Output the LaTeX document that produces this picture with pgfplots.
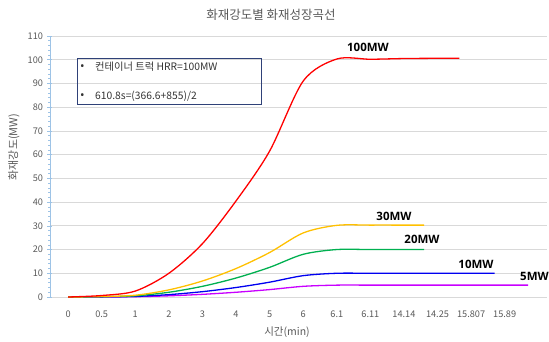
\documentclass[border=0pt]{standalone}
\usepackage{fontspec}
\setmainfont{Noto Sans CJK KR}
\newfontfamily\latinfont{Open Sans}
\usepackage{pgfplots}
\pgfplotsset{compat=1.18}
\definecolor{axisblue}{RGB}{157,195,230}
\definecolor{gridgray}{RGB}{217,217,217}
\definecolor{txtgray}{RGB}{89,89,89}
\definecolor{boxblue}{RGB}{47,65,120}
\definecolor{cOrange}{RGB}{255,192,0}
\definecolor{cGreen}{RGB}{0,176,80}
\definecolor{cBlue}{RGB}{0,0,240}
\definecolor{cPurple}{RGB}{200,0,255}
\definecolor{cRed}{RGB}{255,0,0}
\begin{document}
\begin{tikzpicture}
\path[use as bounding box] (-50pt,-44pt) rectangle (499pt,297pt);
\begin{axis}[
  at={(0pt,0pt)}, anchor=south west,
  scale only axis, width=497pt, height=261pt,
  xmin=-0.54, xmax=14.26, ymin=0, ymax=110,
  xtick={0,...,13},
  xticklabels={0,0.5,1,2,3,4,5,6,6.1,6.11,14.14,14.25,15.807,15.89},
  ytick={0,10,...,110}, minor y tick num=4,
  xtick pos=bottom, ytick pos=left,
  xtick style={draw=none},
  tick style={draw=axisblue, line width=0.6pt},
  major tick length=5pt, minor tick length=3pt, tick align=center,
  axis line style={draw=none},
  ymajorgrids, major grid style={draw=gridgray, line width=0.8pt},
  /pgf/number format/assume math mode=true,
  ticklabel style={font=\fontsize{9.2}{11}\selectfont, text=txtgray},
  xticklabel style={yshift=-8pt},
  yticklabel style={xshift=-1pt},
  clip=false,
]
\draw[axisblue, line width=0.8pt] (rel axis cs:0,0) -- (rel axis cs:0,1);
\addplot[cPurple, line width=1.3pt, smooth] coordinates {
 (0,0) (1,0.03) (2,0.125) (3,0.5) (4,1.125) (5,2) (6,3.125) (7,4.5) (8,5) (9,5) (10,5) (11,5) (12,5) (13,5) (13.7,5)};
\addplot[cBlue, line width=1.3pt, smooth] coordinates {
 (0,0) (1,0.06) (2,0.25) (3,1) (4,2.25) (5,4) (6,6.25) (7,9) (8,10) (9,10) (10,10) (11,10) (12,10) (12.7,10)};
\addplot[cGreen, line width=1.3pt, smooth] coordinates {
 (0,0) (1,0.125) (2,0.5) (3,2) (4,4.5) (5,8) (6,12.5) (7,18) (8,20) (9,20) (10,20) (10.6,20)};
\addplot[cOrange, line width=1.3pt, smooth] coordinates {
 (0,0) (1,0.19) (2,0.75) (3,3) (4,6.75) (5,12) (6,18.75) (7,27) (8,30.2) (9,30.3) (10,30.3) (10.6,30.3)};
\addplot[cRed, line width=1.3pt, smooth] coordinates {
 (0,0) (1,0.625) (2,2.5) (3,10) (4,22.5) (5,40.5) (6,61.5) (7,91) (8,100.3) (9,100.2) (10,100.5) (11,100.6) (11.65,100.6)};
\end{axis}
% title and axis titles
\node[text=txtgray, font=\fontsize{12.5}{15}\selectfont] at (221pt,282pt) {화재강도별 화재성장곡선};
\node[text=txtgray, rotate=90, font=\fontsize{11}{13}\selectfont] at (-36pt,150pt) {화재강도(MW)};
\node[text=txtgray, font=\fontsize{10.5}{12}\selectfont] at (237pt,-35pt) {시간(min)};
% text box
\draw[boxblue, line width=0.9pt] (27pt,193pt) rectangle (211pt,239pt);
\node[anchor=base west, inner sep=0pt, text=black!80, font=\latinfont\fontsize{12}{12}\selectfont] at (30pt,227pt) {•};
\node[anchor=base west, inner sep=0pt, text=black!80, font=\fontsize{10.3}{12}\selectfont] at (45pt,227pt) {컨테이너 트럭 HRR=100MW};
\node[anchor=base west, inner sep=0pt, text=black!80, font=\latinfont\fontsize{12}{12}\selectfont] at (30pt,198pt) {•};
\node[anchor=base west, inner sep=0pt, text=black!80, font=\fontsize{10.3}{12}\selectfont] at (45pt,198pt) {610.8s=(366.6+855)/2};
% series labels
\node[font=\latinfont\bfseries\fontsize{11.5}{13}\selectfont] at (318pt,250pt) {100MW};
\node[font=\latinfont\bfseries\fontsize{11.5}{13}\selectfont] at (344pt,81pt) {30MW};
\node[font=\latinfont\bfseries\fontsize{11.5}{13}\selectfont] at (372pt,58pt) {20MW};
\node[font=\latinfont\bfseries\fontsize{11.5}{13}\selectfont] at (426pt,33pt) {10MW};
\node[anchor=west, inner sep=0pt, font=\latinfont\bfseries\fontsize{11.5}{13}\selectfont] at (470pt,21pt) {5MW};
\end{tikzpicture}
\end{document}
